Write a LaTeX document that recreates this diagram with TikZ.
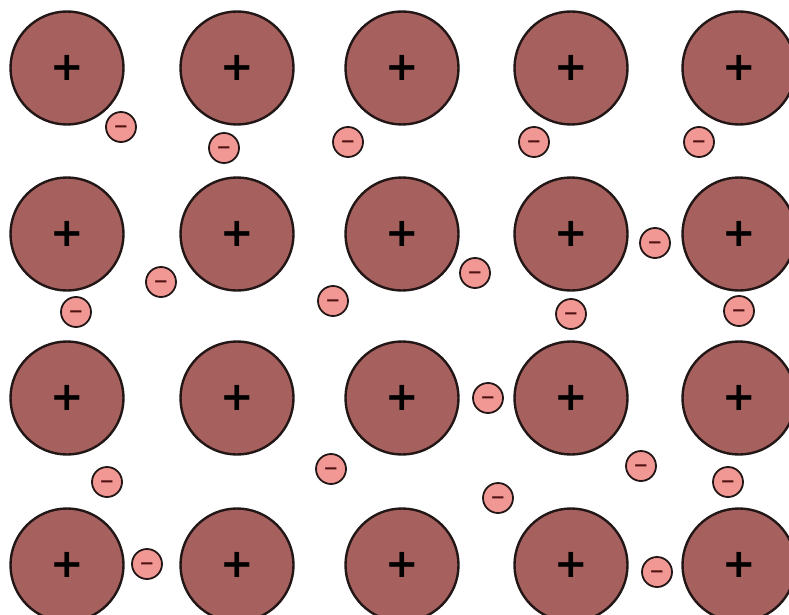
\documentclass[tikz,border=0pt]{standalone}
\usepackage{fontspec}
\setmainfont{DejaVu Sans}
\definecolor{ionfill}{RGB}{166,97,95}
\definecolor{elfill}{RGB}{241,152,148}
\definecolor{edge}{RGB}{35,22,22}
\definecolor{minuscol}{RGB}{80,18,18}
\tikzset{
  ion/.style={circle, draw=edge, line width=2.4pt, fill=ionfill, minimum size=113pt, inner sep=0pt,
    font=\fontsize{40}{40}\selectfont\bfseries, text=black},
  electron/.style={circle, draw=edge, line width=1.8pt, fill=elfill, minimum size=30pt, inner sep=0pt,
    font=\fontsize{18}{18}\selectfont\bfseries, text=minuscol, text height=11.6pt, text depth=0pt}
}
\begin{document}
\begin{tikzpicture}[x=1pt,y=-1pt]
\useasboundingbox (0,0) rectangle (789,615);
% ions
\foreach \c/\x in {1/67,2/237,3/402,4/571,5/739}{
  \foreach \r/\y in {1/68,2/234,3/398,4/565}{
    \node[ion] (ion\r\c) at (\x,\y) {+};
  }
}
% electrons
\foreach \n/\x/\y in {
  a/121/127, b/224/148, c/348/142, d/534/142, e/699/142,
  f/161/282, g/76/312, h/333/301, i/475/273, j/655/243, k/571/314, l/739/311,
  m/488/398, n/107/482, o/331/469, p/641/466, q/728/482, r/498/498,
  s/147/564, t/657/572}{
  \node[electron] (el\n) at (\x,\y) {−};
}
\end{tikzpicture}
\end{document}
